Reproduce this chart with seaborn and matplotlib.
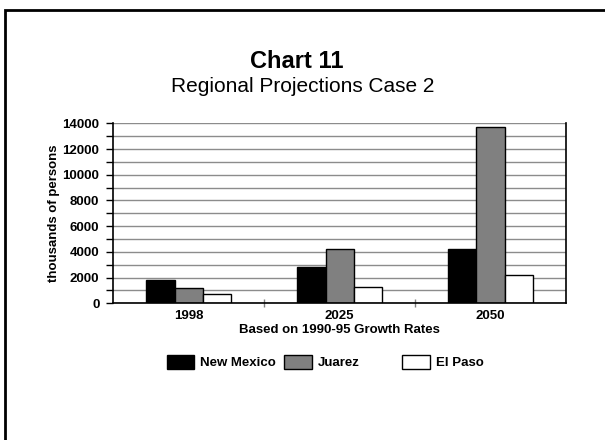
import numpy as np
import pandas as pd
import matplotlib
matplotlib.use("Agg")
import matplotlib.pyplot as plt
import seaborn as sns
from matplotlib.patches import Rectangle, Patch
from matplotlib.ticker import MultipleLocator, FixedLocator

# data (thousands of persons)
years = ["1998", "2025", "2050"]
regions = ["New Mexico", "Juarez", "El Paso"]
new_mexico = [1800, 2800, 4250]
juarez = [1170, 4200, 13700]
el_paso = [720, 1280, 2200]
colors = ["#000000", "#808080", "#ffffff"]

df = pd.DataFrame({
    "year": years * 3,
    "region": [r for r in regions for _ in years],
    "value": new_mexico + juarez + el_paso,
})

sns.set_style("white")
plt.rcParams["font.family"] = ["Liberation Sans", "DejaVu Sans"]
plt.rcParams.update({"text.color": "black", "axes.labelcolor": "black",
                     "xtick.color": "black", "ytick.color": "black"})

fig = plt.figure(figsize=(6.05, 4.4), dpi=100)
ax = fig.add_axes([113.3 / 605, 1 - 303.3 / 440, (566 - 113.3) / 605, 180 / 440])

sns.barplot(data=df, x="year", y="value", hue="region", order=years,
            hue_order=regions, palette=colors, edgecolor="black",
            linewidth=1, width=0.56, gap=0, saturation=1, legend=False, ax=ax)

ax.set_ylim(0, 14000)
ax.set_xlim(-0.5, 2.5)
ax.yaxis.set_major_locator(MultipleLocator(2000))
ax.yaxis.set_minor_locator(MultipleLocator(1000))
ax.grid(axis="y", which="both", color="#8c8c8c", linewidth=1)
ax.set_axisbelow(True)
ax.tick_params(axis="y", which="major", direction="out", length=5, width=1,
               pad=5, labelsize=9.5, left=True, colors="black")
ax.tick_params(axis="y", which="minor", direction="out", length=5, width=1,
               left=True, color="black")
ax.tick_params(axis="x", which="major", length=0, pad=5, labelsize=9.5,
               labelcolor="black")
ax.xaxis.set_minor_locator(FixedLocator([0.5, 1.5]))
ax.tick_params(axis="x", which="minor", direction="inout", length=6,
               width=1, color="#808080", bottom=True)
for lbl in ax.get_xticklabels() + ax.get_yticklabels():
    lbl.set_fontweight("bold")

for side in ["left", "bottom", "right"]:
    ax.spines[side].set_visible(True)
    ax.spines[side].set_color("black")
    ax.spines[side].set_linewidth(1.2)
ax.spines["top"].set_visible(False)

ax.set_ylabel("thousands of persons", fontsize=9.5, fontweight="bold", labelpad=2)
ax.set_xlabel("Based on 1990-95 Growth Rates", fontsize=9.5,
              fontweight="bold", labelpad=1)

fig.text(0.49, 1 - 62 / 440, "Chart 11", ha="center", va="center",
         fontsize=17, fontweight="bold")
fig.text(0.5, 1 - 87 / 440, "Regional Projections Case 2", ha="center",
         va="center", fontsize=15)

# legend, one entry per fixed-width slot
starts = [166.7, 284, 402]
for name, col, x0 in zip(regions, colors, starts):
    h = Patch(facecolor=col, edgecolor="black", linewidth=1)
    leg = fig.legend([h], [name], loc="center left",
                     bbox_to_anchor=(x0 / 605, 1 - 362 / 440),
                     frameon=False, borderpad=0, borderaxespad=0,
                     handlelength=2.1, handleheight=1.3, handletextpad=0.45,
                     prop={"size": 9.5, "weight": "bold"})

# outer frame
fig.patches.append(Rectangle((4.5 / 605, -0.1), 1.2, 1 - 10 / 440 + 0.1,
                             transform=fig.transFigure, fill=False,
                             edgecolor="black", linewidth=2, figure=fig))

fig.savefig("out.png", dpi=100)
